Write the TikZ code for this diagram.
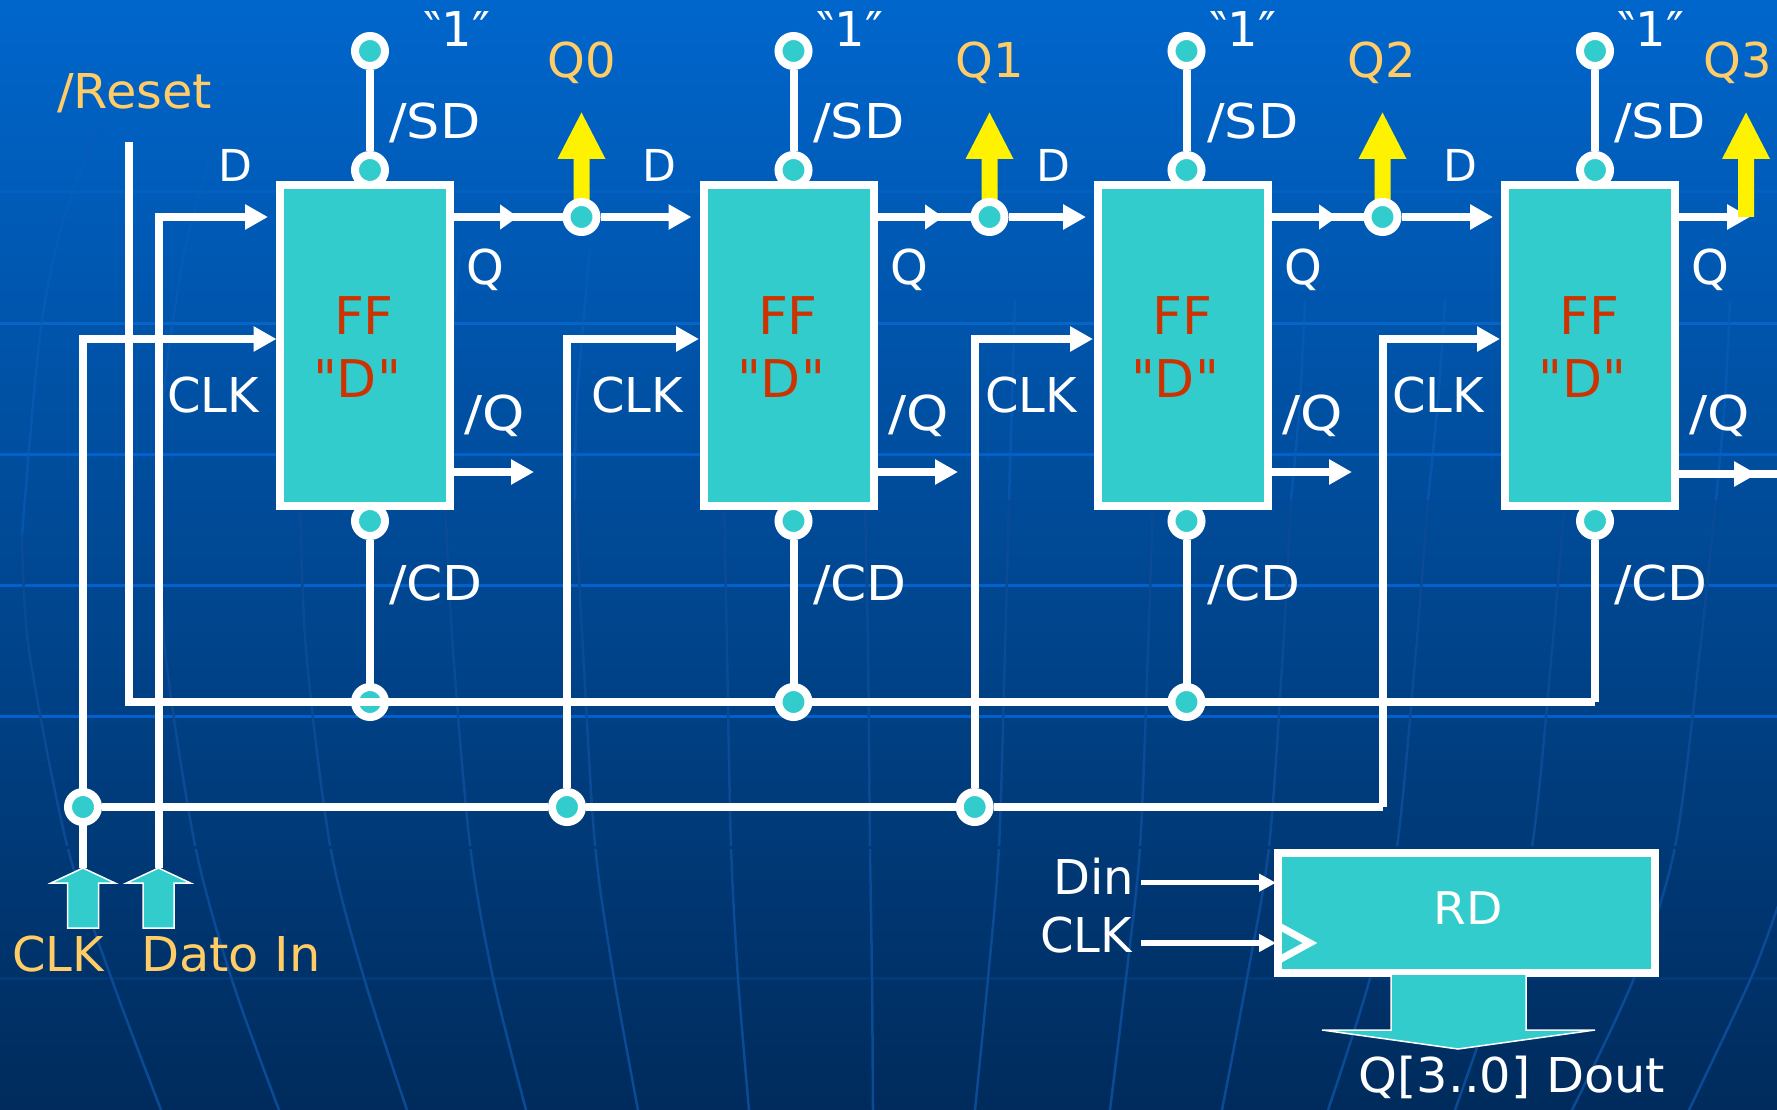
\documentclass[tikz,border=0pt]{standalone}
\usepackage{fontspec}
\setmainfont{DejaVu Sans}
\newfontfamily\rawf{DejaVu Sans}
\usetikzlibrary{calc,arrows.meta}
\definecolor{teal1}{HTML}{33CCCC}
\definecolor{ffred}{HTML}{CC3300}
\definecolor{gold1}{HTML}{FFCC66}
\definecolor{bgtop}{HTML}{0066CC}
\definecolor{bgbot}{HTML}{002B5C}
\definecolor{merid}{HTML}{0B4A94}
\definecolor{meridup}{HTML}{0A5DBA}
\definecolor{gridup}{HTML}{0A69D0}
\definecolor{gridmid}{HTML}{0360CC}
\definecolor{griddark}{HTML}{033A75}
\definecolor{gapc}{HTML}{003977}
\newcommand{\ftn}{\fontsize{48}{52}\selectfont}
\newcommand{\ftb}{\fontsize{52}{56}\selectfont}
\newcommand{\wider}[2]{\scalebox{#1}[1]{#2}}
\tikzset{
  x=1pt,y=-1pt,
  wire/.style={draw=white,line width=8pt,line join=miter},
  arr/.style={wire,-{Triangle[length=23pt,width=24pt]}},
  arrsmall/.style={wire,-{Triangle[length=18pt,width=24pt]}},
  arrthin/.style={draw=white,line width=5.5pt,-{Triangle[length=17pt,width=17pt]}},
  pin/.style={circle,draw=white,fill=teal1,line width=8pt,minimum size=30pt,inner sep=0pt},
  ffbox/.style={draw=white,fill=teal1,line width=8pt,minimum width=170pt,minimum height=321pt,inner sep=0pt},
  rdbox/.style={draw=white,fill=teal1,line width=8pt,minimum width=377pt,minimum height=120pt,inner sep=0pt},
  lab/.style={text=white,inner sep=0pt,anchor=base west,font=\ftn},
  labc/.style={text=white,inner sep=0pt,anchor=base,font=\ftn},
  labe/.style={text=white,inner sep=0pt,anchor=base east,font=\ftn},
  gold/.style={text=gold1,inner sep=0pt,anchor=base,font=\ftn},
  redt/.style={text=ffred,inner sep=0pt,anchor=base,font=\ftb},
  hollow/.style={draw=white,line width=1.5pt,fill=teal1,line join=miter},
  gridl/.style={line width=3pt},
  meridlo/.style={draw=merid,line width=2.5pt},
  meridhi/.style={draw=meridup,draw opacity=.6,line width=2.5pt}
}
\newcommand{\yarrow}[2]{\fill[yellow] (#1-8,#2) -- (#1-8,159) -- (#1-24,159) -- (#1,112.5) -- (#1+24,159) -- (#1+8,159) -- (#1+8,#2) -- cycle;}
% one flip-flop: name, pin x
\newcommand{\ffpins}[2]{%
  \node[pin] (#1top) at (#2,51) {};
  \node[pin] (#1set) at (#2,170) {};
  \coordinate (#1bus) at (#2,702);
  \draw[wire] (#1top) -- (#1set);
}
\newcommand{\ffunit}[4]{%
  \node[ffbox] (#1) at (#2+89,345.5) {};
  \node[pin] (#1rst) at (#3,521) {};
  \node[redt] (#1f) at (#2+88.5,334) {FF};
  \node[redt] (#1d) at (#2+81.5,397) {{\rawf "D"}};
  \node[lab] (#1sd) at (#2+113.5,138.5) {\wider{1.09}{/SD}};
  \node[lab] (#1cd) at (#2+113.5,600) {\wider{1.08}{/CD}};
  \node[labc] (#1dl) at (#2-40,182) {\fontsize{44}{48}\selectfont D};
  \node[lab] (#1clk) at (#2-108.5,412.5) {CLK};
  \node[lab] (#1q) at (#2+191,284) {Q};
  \node[lab] (#1nq) at (#2+188.5,430) {\wider{1.12}{/Q}};
  \node[labc] (#1one) at (#4,46.5) {‶1″};
}
\begin{document}
\begin{tikzpicture}
\useasboundingbox (0,0) rectangle (1777,1110);
\shade[top color=bgtop,bottom color=bgbot] (0,0) rectangle (1777,1110);
% background lines
\draw[gridl,draw=gridup,draw opacity=.15] (0,61) -- (1777,61);
\draw[gridl,draw=gridup,draw opacity=.35] (0,192) -- (1777,192);
\draw[gridl,draw=gridup,draw opacity=.8] (0,323) -- (1777,323);
\foreach \yy in {454,585,716}{\draw[gridl,draw=gridmid] (0,\yy) -- (1777,\yy);}
\draw[gridl,draw=griddark] (0,978) -- (1777,978);
% upper, faint parts of the meridians
\foreach \pts in {
 {(100,120) (62,225) (40,335) (22,535)},
 {(217,134) (185,250) (163,400) (161,520)},
 {(330,250) (305,400) (300,500)},
 {(460,250) (447,400) (445,500)},
 {(590,250) (577,400) (575,500)},
 {(720,300) (722,400) (724,500)},
 {(860,300) (862,400) (865,500)},
 {(1015,300) (1012,400) (1009,500)},
 {(1160,300) (1157,400) (1153,500)},
 {(1305,300) (1300,400) (1291,500)},
 {(1445,300) (1438,400) (1428,500)},
 {(1580,300) (1575,400) (1565,500)},
 {(1730,300) (1725,400) (1716,500)}}
 {\draw[meridhi] plot[smooth] coordinates \pts;}
% lower parts of the meridians
\foreach \pts in {
 {(22,535) (29,650) (67,845) (112,980) (161,1110)},
 {(161,520) (165,650) (195,845) (232,980) (279,1110)},
 {(300,500) (306,650) (330,845) (364,978) (407,1110)},
 {(445,500) (453,650) (470,845) (493,978) (526,1110)},
 {(575,500) (583,650) (595,845) (614,978) (638,1110)},
 {(724,500) (727,650) (731,847) (738,978) (749,1110)},
 {(865,500) (868,650) (870,847) (872,978) (873,1110)},
 {(1009,500) (1005,650) (999,847) (988,978) (975,1110)},
 {(1153,500) (1148,650) (1140,847) (1126,978) (1110,1110)},
 {(1291,500) (1283,650) (1269,847) (1247,978) (1222,1110)},
 {(1428,500) (1416,650) (1397,847) (1370,978) (1328,1110)},
 {(1565,500) (1552,650) (1532,847) (1500,978) (1455,1110)},
 {(1716,500) (1700,650) (1675,847) (1634,978) (1572,1110)},
 {(1780,900) (1751,978) (1689,1110)}}
 {\draw[meridlo] plot[smooth] coordinates \pts;}
\draw[gridl,draw=gapc] (0,847) -- (1777,847);

% pins above the boxes
\ffpins{a}{370}
\ffpins{b}{793.5}
\ffpins{c}{1186.5}
\ffpins{e}{1595}

% yellow outputs
\yarrow{581.5}{217}
\yarrow{989.5}{217}
\yarrow{1382.5}{217}

% named wire ends
\coordinate (rtop) at (128.5,142);
\coordinate (rcorner) at (128.5,702);
\coordinate (ecorner) at (1595,702);
\node[pin] (qa) at (581.5,217) {};
\node[pin] (qb) at (989.5,217) {};
\node[pin] (qc) at (1382.5,217) {};
\coordinate (qe) at (1750,217);
\coordinate (qatip) at (518,217);
\coordinate (qbtip) at (943,217);
\coordinate (qctip) at (1337,217);
\coordinate (datip) at (268,217);
\coordinate (dbtip) at (691.5,217);
\coordinate (dctip) at (1086,217);
\coordinate (detip) at (1493,217);
\coordinate (catip) at (276.5,339);
\coordinate (cbtip) at (699,339);
\coordinate (cctip) at (1093,339);
\coordinate (cetip) at (1500,339);
\coordinate (cain) at (83,868);
\coordinate (dain) at (158.5,868);
\coordinate (cecorner) at (1383,807);
\coordinate (natip) at (534,472);
\coordinate (nbtip) at (958,472);
\coordinate (nctip) at (1352,472);
\coordinate (netip) at (1757,474);
\coordinate (neend) at (1777,474);

% reset bus and data/clock wires
\draw[wire] (rtop) -- (rcorner) -- (ecorner);
\draw[arr] (dain) |- (datip);
\draw[arr] (cain) |- (catip);
\node[pin] (j1) at (83,807) {};
\node[pin] (j2) at (567,807) {};
\node[pin] (j3) at (974.7,807) {};
\draw[wire] (j1) -- (j2);
\draw[wire] (j2) -- (j3);
\draw[wire] (j3) -- (cecorner);
\draw[arr] (j2) |- (cbtip);
\draw[arr] (j3) |- (cctip);
\draw[arr] (cecorner) |- (cetip);

% flip-flops
\ffunit{a}{275.5}{370}{457}
\ffunit{b}{699.5}{793.5}{850}
\ffunit{c}{1093.5}{1186.5}{1243}
\ffunit{e}{1500.5}{1595}{1651}

% clear pins to the bus
\foreach \n in {a,b,c}{\draw[wire] (\n rst) -- (\n bus);}
\draw[wire] (erst) -- (ecorner);
\node[pin] (ba) at (abus) {};
\draw[wire] (ba.west) -- (ba.east);
\node[pin] (bb) at (bbus) {};
\node[pin] (bc) at (cbus) {};

% D and Q wires
\draw[wire] (a.east |- qa) -- (qa);
\draw[arrsmall] (a.east |- qatip) -- (qatip);
\draw[arr] (qa) -- (dbtip);
\draw[wire] (b.east |- qb) -- (qb);
\draw[arrsmall] (b.east |- qbtip) -- (qbtip);
\draw[arr] (qb) -- (dctip);
\draw[wire] (c.east |- qc) -- (qc);
\draw[arrsmall] (c.east |- qctip) -- (qctip);
\draw[arr] (qc) -- (detip);
\draw[arr] (e.east |- qe) -- (qe);
\yarrow{1746}{217}
% /Q wires
\draw[arr] (a.east |- natip) -- (natip);
\draw[arr] (b.east |- nbtip) -- (nbtip);
\draw[arr] (c.east |- nctip) -- (nctip);
\draw[wire] (e.east |- neend) -- (neend);
\draw[arr] (e.east |- netip) -- (netip);

% outer labels
\node[gold] (lq0) at (582,78) {Q0};
\node[gold] (lq1) at (990,78) {Q1};
\node[gold] (lq2) at (1382,78) {Q2};
\node[gold] (lq3) at (1738,78) {Q3};
\node[gold,anchor=base west] (lreset) at (57,109) {\wider{1.03}{/Reset}};
\node[gold,anchor=base west] (lclk) at (12,971) {CLK};
\node[gold,anchor=base west] (ldato) at (141,971) {\wider{1.03}{Dato In}};

% input arrows
\draw[hollow] (83,868) -- (115,883) -- (98.7,883) -- (98.7,928) -- (67.5,928) -- (67.5,883) -- (51,883) -- cycle;
\draw[hollow] (158.5,868) -- (190.5,883) -- (174.2,883) -- (174.2,928) -- (143,928) -- (143,883) -- (126.5,883) -- cycle;

% RD block
\coordinate (dinstart) at (1141,882.7);
\coordinate (dinend) at (1276,882.7);
\coordinate (clkstart) at (1141,943);
\coordinate (clkend) at (1276,943);
\node[rdbox] (rd) at (1466,913) {};
\draw[arrthin] (dinstart) -- (dinend);
\draw[arrthin] (clkstart) -- (clkend);
\draw[draw=white,line width=7pt,line join=miter] (1277,925) -- (1310,943) -- (1277,961);
\draw[hollow] (1391,1030) -- (1391,974) -- (1526,974) -- (1526,1030) -- (1595,1030) -- (1458,1049) -- (1322,1030) -- cycle;
\node[labc] (lrd) at (1468,924) {\wider{1.05}{\fontsize{45}{48}\selectfont RD}};
\node[labe] (ldin) at (1134,894) {Din};
\node[labe] (lclk2) at (1132,952) {CLK};
\node[labc] (ldout) at (1512,1092) {\wider{1.03}{Q[3..0] Dout}};
\end{tikzpicture}
\end{document}
